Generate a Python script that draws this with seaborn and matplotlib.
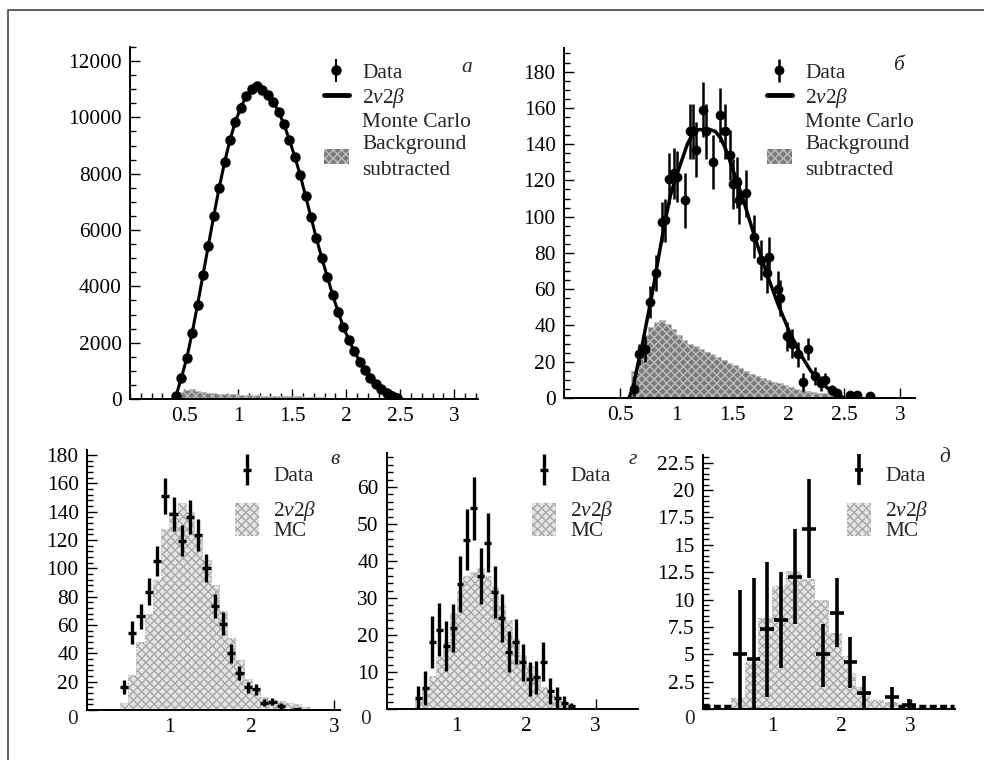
import numpy as np
import pandas as pd
import seaborn as sns
import matplotlib.pyplot as plt
from matplotlib.lines import Line2D
from matplotlib.patches import Patch
from matplotlib.container import ErrorbarContainer
from matplotlib.legend_handler import HandlerErrorbar
from matplotlib.ticker import MultipleLocator, FixedLocator, FuncFormatter

# panel a: data and background
a_x = [0.425, 0.475, 0.525, 0.575, 0.625, 0.675, 0.725, 0.775, 0.825, 0.875,
       0.925, 0.975, 1.025, 1.075, 1.125, 1.175, 1.225, 1.275, 1.325, 1.375,
       1.425, 1.475, 1.525, 1.575, 1.625, 1.675, 1.725, 1.775, 1.825, 1.875,
       1.925, 1.975, 2.025, 2.075, 2.125, 2.175, 2.225, 2.275, 2.325, 2.375,
       2.425, 2.475]
a_y = [100, 750, 1450, 2350, 3350, 4400, 5450, 6500, 7500, 8400,
       9200, 9850, 10350, 10750, 11000, 11100, 10980, 10780, 10550, 10200,
       9750, 9200, 8600, 7950, 7200, 6450, 5700, 5000, 4350, 3700,
       3100, 2550, 2100, 1700, 1330, 1020, 760, 540, 360, 220,
       120, 50]
a_bg_edges = [0.45, 0.5, 0.55, 0.6, 0.65, 0.7, 0.8, 0.9, 1.0, 1.2, 1.4, 1.6, 1.8, 2.0, 2.2, 2.5]
a_bg = [250, 330, 340, 300, 260, 220, 190, 160, 130, 110, 90, 70, 50, 30, 15]

# panel b
b_x = [0.62, 0.67, 0.72, 0.77, 0.82, 0.87, 0.90, 0.94, 0.98, 1.01,
       1.08, 1.12, 1.15, 1.18, 1.24, 1.27, 1.33, 1.39, 1.44, 1.48,
       1.51, 1.54, 1.56, 1.62, 1.69, 1.76, 1.81, 1.83, 1.91, 1.93,
       1.99, 2.03, 2.09, 2.13, 2.18, 2.24, 2.29, 2.33, 2.39, 2.43,
       2.55, 2.61, 2.73]
b_y = [5, 24, 27, 53, 69, 97, 98, 121, 124, 122,
       109, 147, 147, 137, 159, 147, 130, 156, 147, 134,
       118, 119, 109, 113, 89, 76, 69, 78, 60, 55,
       34, 30, 24, 9, 27, 12, 8, 10, 4.4, 2.5,
       1.6, 1.6, 1]
b_err = [4, 6, 7, 9, 10, 11, 12, 14, 14, 14,
         15, 15, 15, 15, 15, 15, 15, 15, 15, 14,
         14, 14, 13, 13, 12, 11, 11, 11, 10, 10,
         8, 8, 7, 5, 6, 5, 4, 4, 3, 2.5,
         2, 2, 1.5]
b_mc_x = [0.58, 0.62, 0.66, 0.70, 0.75, 0.80, 0.85, 0.90, 0.95, 1.00, 1.05,
          1.10, 1.15, 1.20, 1.25, 1.30, 1.35, 1.40, 1.45, 1.50, 1.55, 1.60,
          1.65, 1.70, 1.80, 1.90, 2.00, 2.10, 2.20, 2.30, 2.40, 2.50]
b_mc_y = [0, 7, 19, 30, 46, 62, 80, 97, 112, 122, 131,
          140, 146, 148, 148, 148, 147, 143, 136, 127, 118, 109,
          99, 89, 70, 53, 38, 25, 15, 8, 3, 0]
b_bg_edges = [0.55, 0.60, 0.65, 0.70, 0.75, 0.80, 0.85, 0.90, 0.95, 1.00,
              1.05, 1.10, 1.15, 1.20, 1.25, 1.30, 1.35, 1.40, 1.45, 1.50,
              1.55, 1.60, 1.65, 1.70, 1.75, 1.80, 1.85, 1.90, 1.95, 2.00,
              2.05, 2.10, 2.15, 2.20, 2.25, 2.30, 2.35, 2.40, 2.45, 2.50]
b_bg = [0, 15, 28, 35, 39, 42, 43, 41, 38, 35,
        32, 30, 28.5, 27, 25.5, 24, 22.5, 21, 19.5, 18,
        16.5, 15, 13.5, 12, 11, 10, 9, 8, 7, 6,
        5, 4.5, 4, 3.5, 3, 2.5, 2, 1.5, 0.5]

# panel v (в)
c_x = [0.45, 0.55, 0.65, 0.75, 0.85, 0.95, 1.05, 1.15, 1.25, 1.35, 1.45,
       1.55, 1.65, 1.75, 1.85, 1.95, 2.05, 2.15, 2.25, 2.35, 2.55]
c_y = [16.5, 54.6, 66, 83.5, 105, 151, 138, 119.5, 136, 123.5, 100,
       73.6, 61, 40, 26, 16, 14.6, 5.2, 5.9, 3, 0.5]
c_err = [5, 8, 8.5, 9.5, 10.5, 13, 12, 11, 12, 11, 10,
         8.5, 8, 6.5, 5, 4, 4, 2.5, 2.5, 2, 0.8]
c_mc_edges = [0.4, 0.5, 0.6, 0.7, 0.8, 0.9, 1.0, 1.1, 1.2, 1.3, 1.4, 1.5,
              1.6, 1.7, 1.8, 1.9, 2.0, 2.1, 2.2, 2.3, 2.4, 2.5, 2.6, 2.7]
c_mc = [5, 25, 48, 68, 92, 128, 140, 146, 140, 124, 106,
        88, 70, 51, 35, 22, 14, 9, 7, 6, 5, 4, 2]

# panel g (г)
g_x = [0.45, 0.55, 0.65, 0.75, 0.85, 0.95, 1.05, 1.15, 1.25, 1.35, 1.45, 1.55,
       1.65, 1.75, 1.85, 1.95, 2.05, 2.15, 2.25, 2.35, 2.45, 2.55, 2.65]
g_y = [3, 5.7, 18.2, 21.4, 17, 21.8, 33.8, 45.8, 54.2, 36, 45, 31.7,
       24.7, 15.5, 18.2, 12.6, 8.1, 8.6, 12.8, 4.8, 3, 1.6, 0.7]
g_err = [3.2, 4.5, 7, 7.2, 6.8, 6.5, 7.5, 8.2, 8.5, 7.5, 8, 7,
         6.5, 5.5, 6, 5, 4.5, 4.5, 5.2, 3.5, 3, 2, 1]
g_mc_edges = [0.4, 0.5, 0.6, 0.7, 0.8, 0.9, 1.0, 1.1, 1.2, 1.3, 1.4, 1.5,
              1.6, 1.7, 1.8, 1.9, 2.0, 2.1, 2.2, 2.3, 2.4, 2.5, 2.6, 2.7, 3.5]
g_mc = [2.5, 6, 9, 14, 18, 26, 32, 36, 37, 38, 36, 33,
        28, 24, 19, 14.5, 11.5, 8.7, 6, 3.8, 2.4, 1.5, 0.8, 0.3]

# panel d (д)
d_x = [0.53, 0.73, 0.93, 1.13, 1.33, 1.53, 1.73, 1.93, 2.13, 2.33, 2.73, 2.97]
d_y = [5.0, 4.6, 7.3, 8.1, 12.1, 16.4, 5.0, 8.75, 4.3, 1.5, 1.07, 0.4]
d_lo = [5.0, 4.6, 6.2, 4.4, 4.3, 4.4, 3.0, 3.05, 2.4, 1.5, 1.07, 0.4]
d_hi = [5.9, 7.4, 6.1, 4.4, 4.3, 4.6, 2.8, 3.25, 2.3, 1.5, 0.93, 0.5]
d_mc_edges = [0.4, 0.6, 0.8, 1.0, 1.2, 1.4, 1.6, 1.8, 2.0, 2.1, 2.2, 2.3, 2.4, 2.6, 2.8]
d_mc = [1.0, 4.3, 8.3, 11.2, 12.6, 11.9, 10.0, 6.9, 4.8, 3.3, 2.0, 1.6, 0.8, 0.6]
d_empty_x = [[0.0, 0.4], [2.82, 3.62]]
d_empty_y = 0.25

sns.set_style("ticks")
plt.rcParams['font.family'] = ['Liberation Serif', 'DejaVu Serif']
plt.rcParams['mathtext.fontset'] = 'custom'
plt.rcParams['mathtext.rm'] = 'Liberation Serif'
plt.rcParams['mathtext.it'] = 'Liberation Serif:italic'
plt.rcParams['hatch.linewidth'] = 1.0

FS = 15.4
fig = plt.figure(figsize=(9.84, 7.6), dpi=100)
W, H = 984, 760


def px_axes(l, r, b, t):
    return fig.add_axes([l / W, 1 - b / H, (r - l) / W, (b - t) / H])


def style(ax, xticks, xminor, ymaj, ymin, xlim, ylim, zero_off=None):
    sns.despine(ax=ax)
    ax.set_xlim(*xlim)
    ax.set_ylim(*ylim)
    ax.xaxis.set_major_locator(FixedLocator(xticks))
    if xminor:
        ax.xaxis.set_minor_locator(MultipleLocator(xminor))
    ax.yaxis.set_major_locator(MultipleLocator(ymaj))
    ax.yaxis.set_minor_locator(MultipleLocator(ymin))
    ax.xaxis.set_major_formatter(FuncFormatter(lambda v, p: '%g' % v))
    if zero_off is None:
        ax.yaxis.set_major_formatter(FuncFormatter(lambda v, p: '%g' % v))
    else:
        # the "0" of the bottom panels sits a bit lower and further left
        ax.yaxis.set_major_formatter(FuncFormatter(lambda v, p: '' if v == 0 else '%g' % v))
        ax.annotate('0', xy=(0, 0), xycoords='axes fraction', xytext=zero_off,
                    textcoords='offset pixels', ha='right', va='center', fontsize=FS)
    ax.tick_params(which='both', direction='in', width=1, labelsize=FS, colors='black')
    ax.tick_params(which='major', length=7, pad=6)
    ax.tick_params(which='minor', length=4)
    for s in ['left', 'bottom']:
        ax.spines[s].set_linewidth(1.4)
        ax.spines[s].set_color('black')
    ax.set_xlabel('')
    ax.set_ylabel('')
    ax.patch.set_alpha(0)


def hist(ax, edges, values, face, hatchc, lw, ls='-'):
    sns.histplot(x=edges[:-1], weights=values, bins=edges, element='step', fill=True,
                 facecolor=face, edgecolor=hatchc, linewidth=lw, linestyle=ls,
                 hatch='xxxx', alpha=1, ax=ax)


BG_FACE, BG_HATCH = '#7c7c7c', '#bdbdbd'
MC_FACE, MC_HATCH = '#e4e4e4', '#a9a9a9'
nu = r'$\mathit{2\nu2\beta}$'
em = FS * 100 / 72


def top_legend(ax, eb, text_left):
    handles = [eb, Line2D([], [], color='black', lw=3.5), Patch(facecolor='none', edgecolor='none'),
               Patch(facecolor=BG_FACE, edgecolor=BG_HATCH, hatch='xxxx', lw=0)]
    labels = ['Data', nu, 'Monte Carlo', 'Background\nsubtracted']
    leg = ax.legend(handles, labels, loc='upper left',
                    bbox_to_anchor=((text_left - 1.8 * em) / W, 1 - 63 / H),
                    bbox_transform=fig.transFigure, frameon=False, fontsize=FS,
                    handlelength=1.2, handletextpad=0.6, labelspacing=0.12,
                    borderpad=0, borderaxespad=0,
                    handler_map={ErrorbarContainer: HandlerErrorbar(xerr_size=0.0, yerr_size=0.55)})
    leg.get_texts()[3].set_linespacing(1.5)


# ---- panel a
ax = px_axes(130, 478, 399, 47)
hist(ax, a_bg_edges, a_bg, BG_FACE, BG_HATCH, 0.5)
sns.lineplot(x=[0.40] + a_x + [2.52], y=[0] + a_y + [0], color='black', lw=2.2,
             sort=False, ax=ax)
eb_a = ax.errorbar(a_x, a_y, yerr=150, fmt='o', ms=6.5, color='black', elinewidth=1.5,
                   capsize=0, zorder=5)
style(ax, [0.5, 1, 1.5, 2, 2.5, 3], 0.1, 2000, 500, (0, 3.22), (0, 12500))
top_legend(ax, eb_a, 362)

# ---- panel b
ax = px_axes(564, 915, 398, 48)
hist(ax, b_bg_edges, b_bg, BG_FACE, BG_HATCH, 0.5)
sns.lineplot(x=b_mc_x, y=b_mc_y, color='black', lw=2.5, sort=False, ax=ax)
eb_b = ax.errorbar(b_x, b_y, yerr=b_err, xerr=0.022, fmt='o', ms=6, color='black',
                   elinewidth=1.8, capsize=0, zorder=5)
style(ax, [0.5, 1, 1.5, 2, 2.5, 3], None, 20, 5, (0, 3.13), (0, 193))
top_legend(ax, eb_b, 805)

# ---- bottom panels
hmap_bot = {ErrorbarContainer: HandlerErrorbar(xerr_size=0.18, yerr_size=0.72)}


def bottom_legend(ax, eb, text_left):
    handles = [eb, Patch(facecolor=MC_FACE, edgecolor=MC_HATCH, hatch='xxxx', lw=0)]
    leg = ax.legend(handles, ['Data', nu + '\nMC'], loc='upper left',
                    bbox_to_anchor=((text_left - 1.8 * em) / W, 1 - 458 / H),
                    bbox_transform=fig.transFigure,
                    frameon=False, fontsize=FS, handlelength=1.15, handleheight=2.0,
                    handletextpad=0.65, labelspacing=0.35, borderpad=0, borderaxespad=0,
                    handler_map=hmap_bot)
    leg.get_texts()[1].set_linespacing(0.95)


ax = px_axes(87, 340, 710, 450)
hist(ax, c_mc_edges, c_mc, MC_FACE, MC_HATCH, 0.8, ':')
eb_c = ax.errorbar(c_x, c_y, yerr=c_err, xerr=0.05, fmt='none', ecolor='black',
                   elinewidth=2.4, capsize=0, zorder=5)
style(ax, [1, 2, 3], None, 20, 4, (0, 3.07), (0, 183.5), zero_off=(-9, -10))
bottom_legend(ax, eb_c, 273)

ax = px_axes(387, 638, 709, 453)
hist(ax, g_mc_edges, g_mc, MC_FACE, MC_HATCH, 0.8, ':')
eb_g = ax.errorbar(g_x, g_y, yerr=g_err, xerr=0.05, fmt='none', ecolor='black',
                   elinewidth=2.4, capsize=0, zorder=5)
style(ax, [1, 2, 3], None, 10, 2, (0, 3.61), (0, 69.2), zero_off=(-16, -10))
bottom_legend(ax, eb_g, 570)

ax = px_axes(703, 955, 709, 455)
hist(ax, d_mc_edges, d_mc, MC_FACE, MC_HATCH, 0.8, ':')
for seg in d_empty_x:
    ax.plot(seg, [d_empty_y, d_empty_y], color='black', lw=2.5, ls=(0, (2, 1)), zorder=4)
eb_d = ax.errorbar(d_x, d_y, yerr=[d_lo, d_hi], xerr=0.1, fmt='none', ecolor='black',
                   elinewidth=2.6, capsize=0, zorder=5)
style(ax, [1, 2, 3], None, 2.5, 0.5, (0, 3.64), (0, 23.2), zero_off=(-8, -10))
bottom_legend(ax, eb_d, 885)

# panel letters
for letter, x, y in [('а', 467, 68), ('б', 898, 66), ('в', 335, 459),
                     ('г', 633, 459), ('д', 945, 457)]:
    fig.text(x / W, 1 - y / H, letter, fontsize=FS, fontstyle='italic', ha='center', va='center')

# outer frame (left and top edges)
fig.add_artist(Line2D([8 / W, 8 / W, 1.0], [0.0, 1 - 10 / H, 1 - 10 / H],
                      transform=fig.transFigure, color='#555555', lw=1.3))

fig.savefig('out.png', dpi=100)
